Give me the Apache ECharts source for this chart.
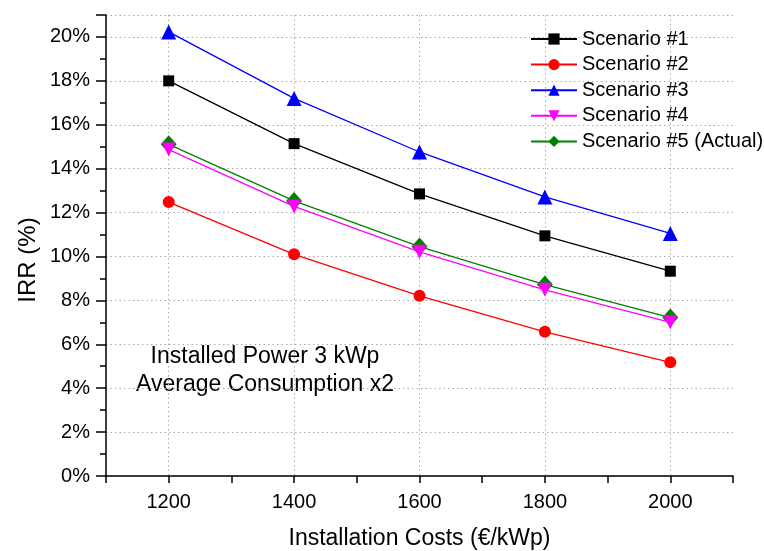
<!DOCTYPE html>
<html>
<head>
<meta charset="utf-8">
<script src="https://cdn.jsdelivr.net/npm/echarts@6/dist/echarts.min.js"></script>
<style>html,body{margin:0;padding:0;background:#fff;}#c{width:764px;height:551px;}</style>
</head>
<body>
<div id="c"></div>
<script>
var xCategories = ['1100','1200','1300','1400','1500','1600','1700','1800','1900','2000','2100'];
var costs = ['1200','1400','1600','1800','2000'];
var scenario1 = [18.0, 15.14, 12.85, 10.94, 9.33];
var scenario2 = [12.48, 10.10, 8.21, 6.57, 5.18];
var scenario3 = [20.23, 17.2, 14.76, 12.71, 11.05];
var scenario4 = [14.87, 12.28, 10.21, 8.48, 7.0];
var scenario5 = [15.11, 12.53, 10.45, 8.72, 7.22];
var seriesNames = ['Scenario #1','Scenario #2','Scenario #3','Scenario #4','Scenario #5 (Actual)'];
var yTickLabels = ['0%','2%','4%','6%','8%','10%','12%','14%','16%','18%','20%'];
var annotation = ['Installed Power 3 kWp','Average Consumption x2'];
var xTitle = 'Installation Costs (€/kWp)';
var yTitle = 'IRR (%)';

var FONT = '"Liberation Sans", Arial, sans-serif';
var labeledX = {'1200':1,'1400':1,'1600':1,'1800':1,'2000':1};

function pairs(vals){ return costs.map(function(c,i){ return [c, vals[i]]; }); }

var styles = [
  {color:'#000000', symbol:'rect', size:11},
  {color:'#ff0000', symbol:'circle', size:12},
  {color:'#0000ff', symbol:'triangle', size:15},
  {color:'#ff00ff', symbol:'path://M0,0 L10,0 L5,9 Z', size:14},
  {color:'#008000', symbol:'diamond', size:[16,18]}
];
var allVals = [scenario1, scenario2, scenario3, scenario4, scenario5];

var series = allVals.map(function(v, i){
  return {
    name: seriesNames[i], type:'line', data: pairs(v),
    symbol: styles[i].symbol, symbolSize: styles[i].size,
    lineStyle:{color:styles[i].color, width:1.3},
    itemStyle:{color:styles[i].color},
    z: 10 - i
  };
});

var chart = echarts.init(document.getElementById('c'));
chart.setOption({
  backgroundColor:'#ffffff',
  animation:false,
  grid:{left:106, top:15, right:31, bottom:75, outerBoundsMode:'none', containLabel:false},
  legend:{
    show:true, orient:'vertical', left:525, top:24,
    itemWidth:46, itemHeight:14, itemGap:5.6,
    data: seriesNames,
    textStyle:{fontFamily:FONT, fontSize:20, color:'#000'}
  },
  xAxis:{
    type:'category', data:xCategories, boundaryGap:false,
    axisLine:{lineStyle:{color:'#000', width:1.5}},
    axisTick:{show:true, inside:false, length:7, lineStyle:{color:'#000', width:1.5}, interval:0},
    axisLabel:{fontFamily:FONT, fontSize:20, color:'#000', margin:16,
      interval:function(i, v){ return !!labeledX[v]; }},
    splitLine:{show:true, interval:function(i, v){ return !!labeledX[v]; },
      lineStyle:{color:'#aaaaaa', type:[1.5,3], width:1}},
    name:xTitle, nameLocation:'middle', nameGap:51,
    nameTextStyle:{fontFamily:FONT, fontSize:23, color:'#000'}
  },
  yAxis:{
    type:'value', min:0, max:21, interval:2,
    axisLine:{show:true, lineStyle:{color:'#000', width:1.5}},
    axisTick:{show:true, inside:false, length:10, lineStyle:{color:'#000', width:1.5}},
    minorTick:{show:true, splitNumber:2, length:6, lineStyle:{color:'#000', width:1.5}},
    axisLabel:{fontFamily:FONT, fontSize:20, color:'#000', margin:16,
      formatter:function(v){ var i = Math.round(v/2); return (v%2===0 && yTickLabels[i]) ? yTickLabels[i] : ''; }},
    splitLine:{show:true, lineStyle:{color:'#aaaaaa', type:[1.5,3], width:1}}
  },
  graphic:[
    {type:'text', x:28, y:260, rotation:Math.PI/2,
      style:{text:yTitle, fontFamily:FONT, fontSize:24, fill:'#000', textAlign:'center', textVerticalAlign:'middle'}},
    {type:'text', x:265, y:357, style:{text:annotation[0], fontFamily:FONT, fontSize:23, fill:'#000', textAlign:'center', textVerticalAlign:'middle'}},
    {type:'text', x:265, y:385, style:{text:annotation[1], fontFamily:FONT, fontSize:23, fill:'#000', textAlign:'center', textVerticalAlign:'middle'}}
  ],
  series: series
});
</script>
</body>
</html>
